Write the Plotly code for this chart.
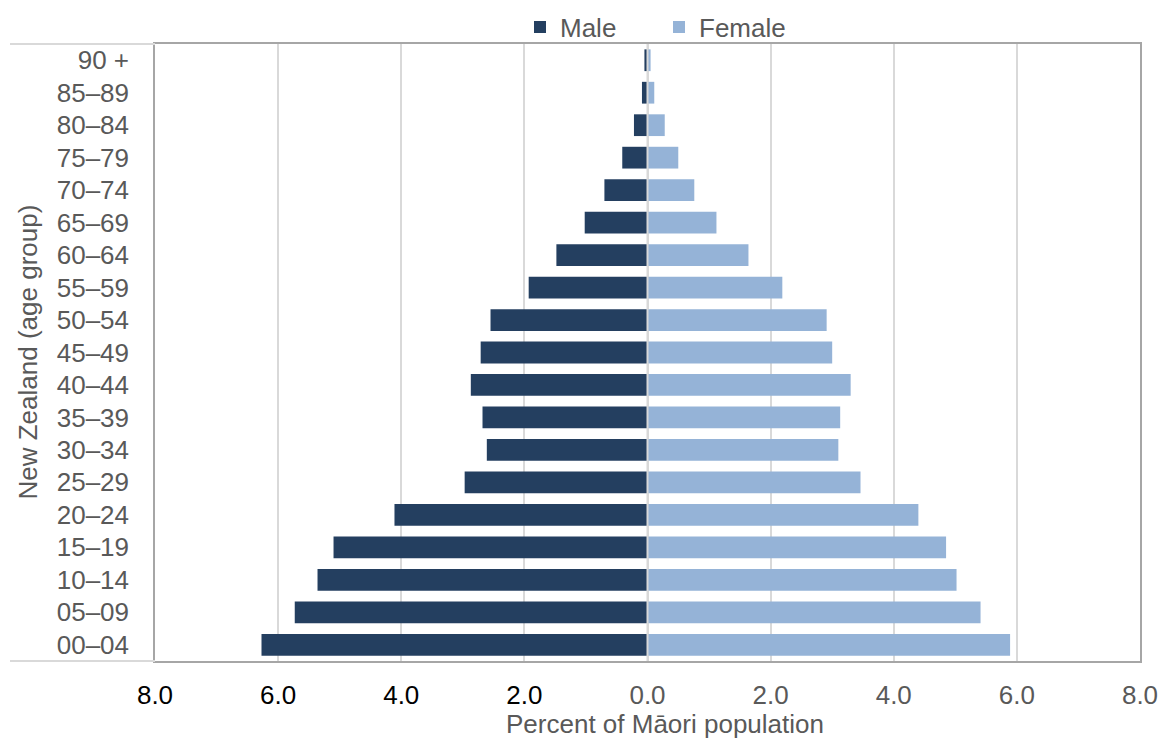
import plotly.graph_objects as go

age_groups = ["00–04", "05–09", "10–14", "15–19", "20–24", "25–29", "30–34",
              "35–39", "40–44", "45–49", "50–54", "55–59", "60–64", "65–69",
              "70–74", "75–79", "80–84", "85–89", "90 +"]
male = [6.27, 5.73, 5.36, 5.10, 4.11, 2.97, 2.61, 2.68, 2.87, 2.71, 2.55,
        1.93, 1.48, 1.02, 0.70, 0.41, 0.22, 0.09, 0.05]
female = [5.89, 5.41, 5.02, 4.85, 4.40, 3.46, 3.10, 3.13, 3.30, 3.00, 2.91,
          2.19, 1.64, 1.12, 0.76, 0.50, 0.28, 0.11, 0.05]
tick_vals = [-8, -6, -4, -2, 0, 2, 4, 6, 8]
tick_text = ["8.0", "6.0", "4.0", "2.0", "0.0", "2.0", "4.0", "6.0", "8.0"]

GREY = "#595959"
FONT = "Liberation Sans, Arial, sans-serif"
FS = 26

W, H = 1160, 740
PL, PR, PT, PB = 155, 1140, 44, 661   # plot-area box in pixels
paper_h = PB                          # margin t=0, so paper spans 0..PB
dom_top = (paper_h - PT) / paper_h

fig = go.Figure()
fig.add_trace(go.Bar(y=age_groups, x=[-v for v in male], orientation="h",
                     name="Male", marker=dict(color="#243F60", line=dict(width=0))))
fig.add_trace(go.Bar(y=age_groups, x=female, orientation="h",
                     name="Female", marker=dict(color="#95B3D7", line=dict(width=0))))

ticktext_colored = [
    (f'<span style="color:#000000">{t}</span>' if v < 0 else t)
    for v, t in zip(tick_vals, tick_text)
]

plot_w = PR - PL
plot_h = PB - PT

fig.update_layout(
    width=W, height=H,
    margin=dict(l=PL, r=W - PR, t=0, b=H - PB, autoexpand=False),
    paper_bgcolor="white", plot_bgcolor="white",
    barmode="overlay", bargap=0.33,
    font=dict(family=FONT, size=FS, color=GREY),
    showlegend=True,
    legend=dict(orientation="h", xref="paper", yref="paper",
                x=(520 - PL) / plot_w, xanchor="left",
                y=1 - 27 / paper_h, yanchor="middle",
                font=dict(size=FS, color=GREY),
                traceorder="normal", bgcolor="rgba(0,0,0,0)",
                entrywidth=94, entrywidthmode="pixels",
                itemclick=False),
    xaxis=dict(range=[-8, 8], tickvals=tick_vals, ticktext=ticktext_colored,
               showgrid=True, gridcolor="#D9D9D9", gridwidth=1.5,
               zeroline=False, showline=True, linecolor="#A6A6A6",
               linewidth=1.5, mirror=True, ticks="", automargin=False,
               ticklabelstandoff=10, tickfont=dict(size=FS, color=GREY)),
    yaxis=dict(categoryorder="array", categoryarray=age_groups,
               range=[-0.5, 18.5], domain=[0, dom_top],
               showgrid=False, zeroline=False, automargin=False,
               showline=True, linecolor="#A6A6A6", linewidth=1.5,
               mirror=True, ticks="", ticklabelstandoff=19,
               tickfont=dict(size=FS, color=GREY)),
    shapes=[
        dict(type="line", xref="x", yref="y domain", x0=0, x1=0, y0=0, y1=1,
             line=dict(color="#D9D9D9", width=2), layer="above"),
        dict(type="line", xref="paper", yref="y domain", x0=(10 - PL) / plot_w,
             x1=0, y0=1, y1=1, line=dict(color="#D9D9D9", width=2)),
        dict(type="line", xref="paper", yref="y domain", x0=(10 - PL) / plot_w,
             x1=0, y0=0, y1=0, line=dict(color="#D9D9D9", width=2)),
    ],
    annotations=[
        dict(text="New Zealand (age group)", xref="paper", yref="y domain",
             x=(27 - PL) / plot_w, y=0.5, textangle=-90, showarrow=False,
             xanchor="center", yanchor="middle",
             font=dict(size=FS, color=GREY)),
        dict(text="Percent of Māori population", xref="paper", yref="y domain",
             x=(665 - PL) / plot_w, y=-(724 - PB) / plot_h, showarrow=False,
             xanchor="center", yanchor="middle",
             font=dict(size=FS, color=GREY)),
    ],
)

fig.write_html("out.html", config={"displayModeBar": False},
               post_script="document.body.style.margin='0';")
